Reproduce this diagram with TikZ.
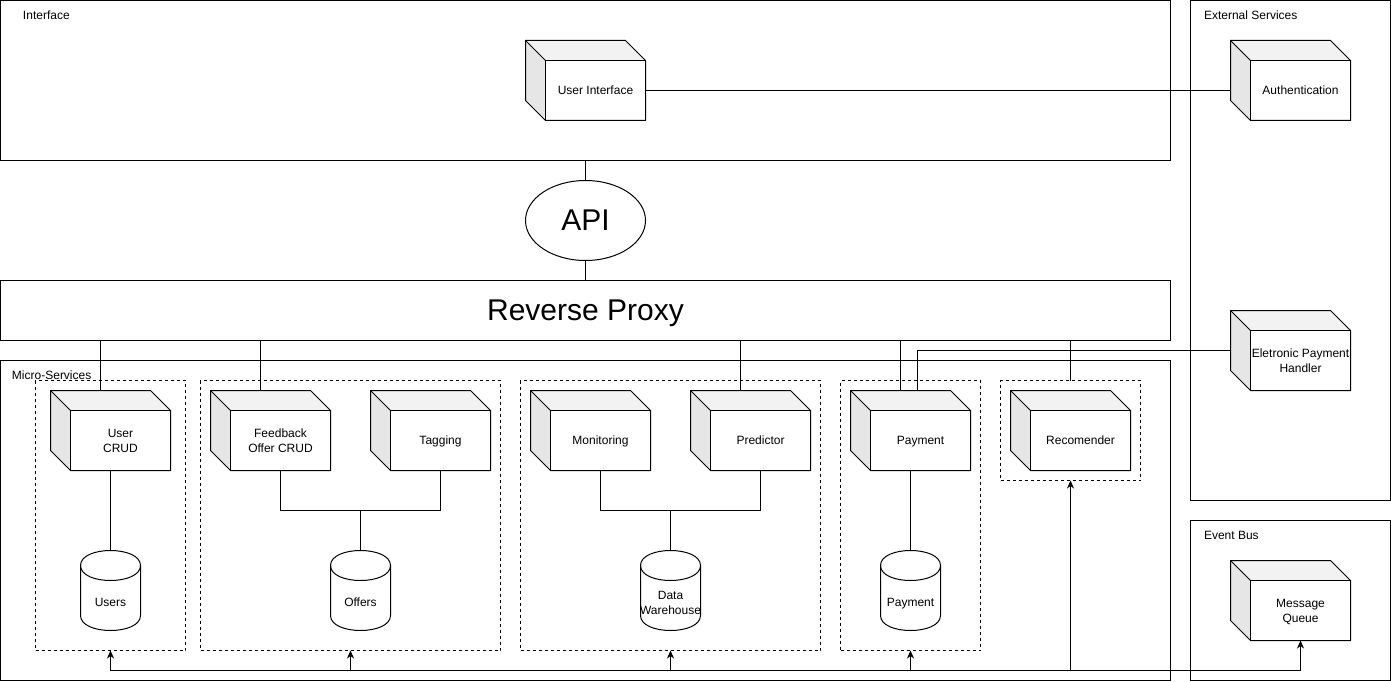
\documentclass[tikz,border=0pt]{standalone}
\usepackage{fontspec}
\setmainfont{Liberation Sans}
\usetikzlibrary{shapes.geometric,arrows.meta,calc}
\definecolor{cubetopc}{HTML}{F2F2F2}
\definecolor{cubesidec}{HTML}{E6E6E6}
\newcommand\fsmall{\fontsize{12}{14.5}\selectfont}
\newcommand\fbig{\fontsize{30}{36}\selectfont}
\newcommand\tstr{\rule{0pt}{11.6pt}}
\newcommand\bstr{\rule[-2.8pt]{0pt}{2.8pt}}
\newcommand\tstrbig{\rule{0pt}{27pt}}
\newcommand\bstrbig{\rule[-6.6pt]{0pt}{6.6pt}}
\tikzset{
  box/.style={draw, rectangle, inner sep=0pt, outer sep=0pt, anchor=north west},
  group/.style={box, dash pattern=on 3pt off 3pt},
  lbl/.style={anchor=west, inner sep=0pt, font=\fsmall},
  cubebox/.style={rectangle, inner sep=0pt, outer sep=0pt, minimum width=120pt, minimum height=80pt},
  cubefront/.style={draw, fill=white, rectangle, inner sep=0pt, outer sep=0pt, minimum width=100pt, minimum height=60pt, align=center, font=\fsmall},
  dbbox/.style={rectangle, inner sep=0pt, outer sep=0pt, minimum width=60pt, minimum height=80pt},
  dbtext/.style={inner sep=0pt, align=center, font=\fsmall},
  arr/.style={-{Stealth[length=8pt,width=7pt,inset=2.5pt]}},
}
\newcommand\mkcube[4]{%
  \node[cubebox] (#1) at (#2+60,#3+40) {};
  \fill[cubetopc] (#1.north west) -- ++(100,0) -- ++(20,20) -- ++(-100,0) -- cycle;
  \fill[cubesidec] (#1.north west) -- ++(20,20) -- ++(0,60) -- ++(-20,-20) -- cycle;
  \node[cubefront] (#1-f) at ($(#1.center)+(10,10)$) {\tstr #4\bstr};
  \draw (#1.north west) -- ++(100,0) -- ++(20,20) -- ++(0,60) -- ++(-100,0) -- ++(-20,-20) -- cycle;
  \draw (#1.north west) -- ++(20,20);
  \coordinate (#1-t) at ($(#1.north west)+(50,0)$);
}
\newcommand\mkdb[4]{%
  \node[dbbox] (#1) at (#2+30,#3+40) {};
  \draw[fill=white] ($(#1.north west)+(0,15)$) .. controls +(0,-20) and +(0,-20) .. ($(#1.north east)+(0,15)$) -- ($(#1.south east)+(0,-15)$) .. controls +(0,20) and +(0,20) .. ($(#1.south west)+(0,-15)$) -- cycle;
  \draw ($(#1.north west)+(0,15)$) .. controls +(0,20) and +(0,20) .. ($(#1.north east)+(0,15)$);
  \node[dbtext] (#1-l) at ($(#1.center)+(0,12)$) {\tstr #4\bstr};
}
\begin{document}
\begin{tikzpicture}[x=1pt,y=-1pt,line width=1pt]
\useasboundingbox (-0.5,-0.5) rectangle (1390.5,681.5);
% containers
\node[box, minimum width=1170pt, minimum height=160pt] (iface) at (0,0) {};
\node[lbl] (ifaceL) at (22,14.5) {Interface};
\node[box, minimum width=200pt, minimum height=500pt] (ext) at (1190,0) {};
\node[lbl] (extL) at (1203,14.5) {External Services};
\node[box, minimum width=200pt, minimum height=160pt] (evb) at (1190,520) {};
\node[lbl] (evbL) at (1203,534.5) {Event Bus};
\node[box, minimum width=1170pt, minimum height=60pt] (rp) at (0,280) {};
\node[font=\fbig, inner sep=0pt] (rpL) at (585,310) {\tstrbig Reverse Proxy\bstrbig};
\node[box, minimum width=1170pt, minimum height=320pt] (ms) at (0,360) {};
\node[draw, ellipse, minimum width=120pt, minimum height=80pt, inner sep=0pt, outer sep=0pt, font=\fbig] (api) at (585,220) {\tstrbig API\bstrbig};
% groups
\node[group, minimum width=150pt, minimum height=270pt] (g1) at (35,380) {};
\node[group, minimum width=300pt, minimum height=270pt] (g2) at (200,380) {};
\node[group, minimum width=300pt, minimum height=270pt] (g3) at (520,380) {};
\node[group, minimum width=140pt, minimum height=270pt] (g4) at (840,380) {};
\node[group, minimum width=140pt, minimum height=100pt] (g5) at (1000,380) {};
\node[lbl] (msL) at (11,375) {Micro-Services};
% cubes
\mkcube{ui}{525}{40}{User Interface}
\mkcube{auth}{1230}{40}{Authentication}
\mkcube{eph}{1230}{310}{Eletronic Payment\\Handler}
\mkcube{mq}{1230}{560}{Message\\Queue}
\mkcube{ucrud}{50}{390}{User\\CRUD}
\mkcube{fb}{210}{390}{Feedback\\Offer CRUD}
\mkcube{tag}{370}{390}{Tagging}
\mkcube{mon}{530}{390}{Monitoring}
\mkcube{pred}{690}{390}{Predictor}
\mkcube{pay}{850}{390}{Payment}
\mkcube{rec}{1010}{390}{Recomender}
% databases
\mkdb{users}{80}{550}{Users}
\mkdb{offers}{330}{550}{Offers}
\mkdb{dw}{640}{550}{Data\\Warehouse}
\mkdb{paydb}{880}{550}{Payment}
% connectors
\draw (ui-f.east) -- (ui-f.east -| auth.west);
\draw (iface.south) -- (api.north);
\draw (api.south) -- (rp.north);
\draw (rp.south -| ucrud-t) -- (ucrud-t);
\draw (rp.south -| fb-t) -- (fb-t);
\draw (rp.south -| pred-t) -- (pred-t);
\draw (rp.south -| pay-t) -- (pay-t);
\draw (rp.south -| g5.north) -- (g5.north);
\coordinate (ephin) at ($(pay-t)+(17,0)$);
\draw (eph.west) -| (ephin);
\draw (ucrud.south) -- (users.north);
\coordinate (j1) at ($(offers.north)+(0,-40)$);
\draw (fb-f.south) |- (j1) -| (tag-f.south);
\draw (j1) -- (offers.north);
\coordinate (j2) at ($(dw.north)+(0,-40)$);
\draw (mon-f.south) |- (j2) -| (pred-f.south);
\draw (j2) -- (dw.north);
\draw (pay.south) -- (paydb.north);
% event bus
\coordinate (bus) at (0,670);
\draw (g1.south |- bus) -- (mq-f.south |- bus);
\draw[arr] (g1.south |- bus) -- (g1.south);
\draw[arr] (g2.south |- bus) -- (g2.south);
\draw[arr] (g3.south |- bus) -- (g3.south);
\draw[arr] (g4.south |- bus) -- (g4.south);
\draw[arr] (g5.south |- bus) -- (g5.south);
\draw[arr] (mq-f.south |- bus) -- (mq-f.south);
\end{tikzpicture}
\end{document}
